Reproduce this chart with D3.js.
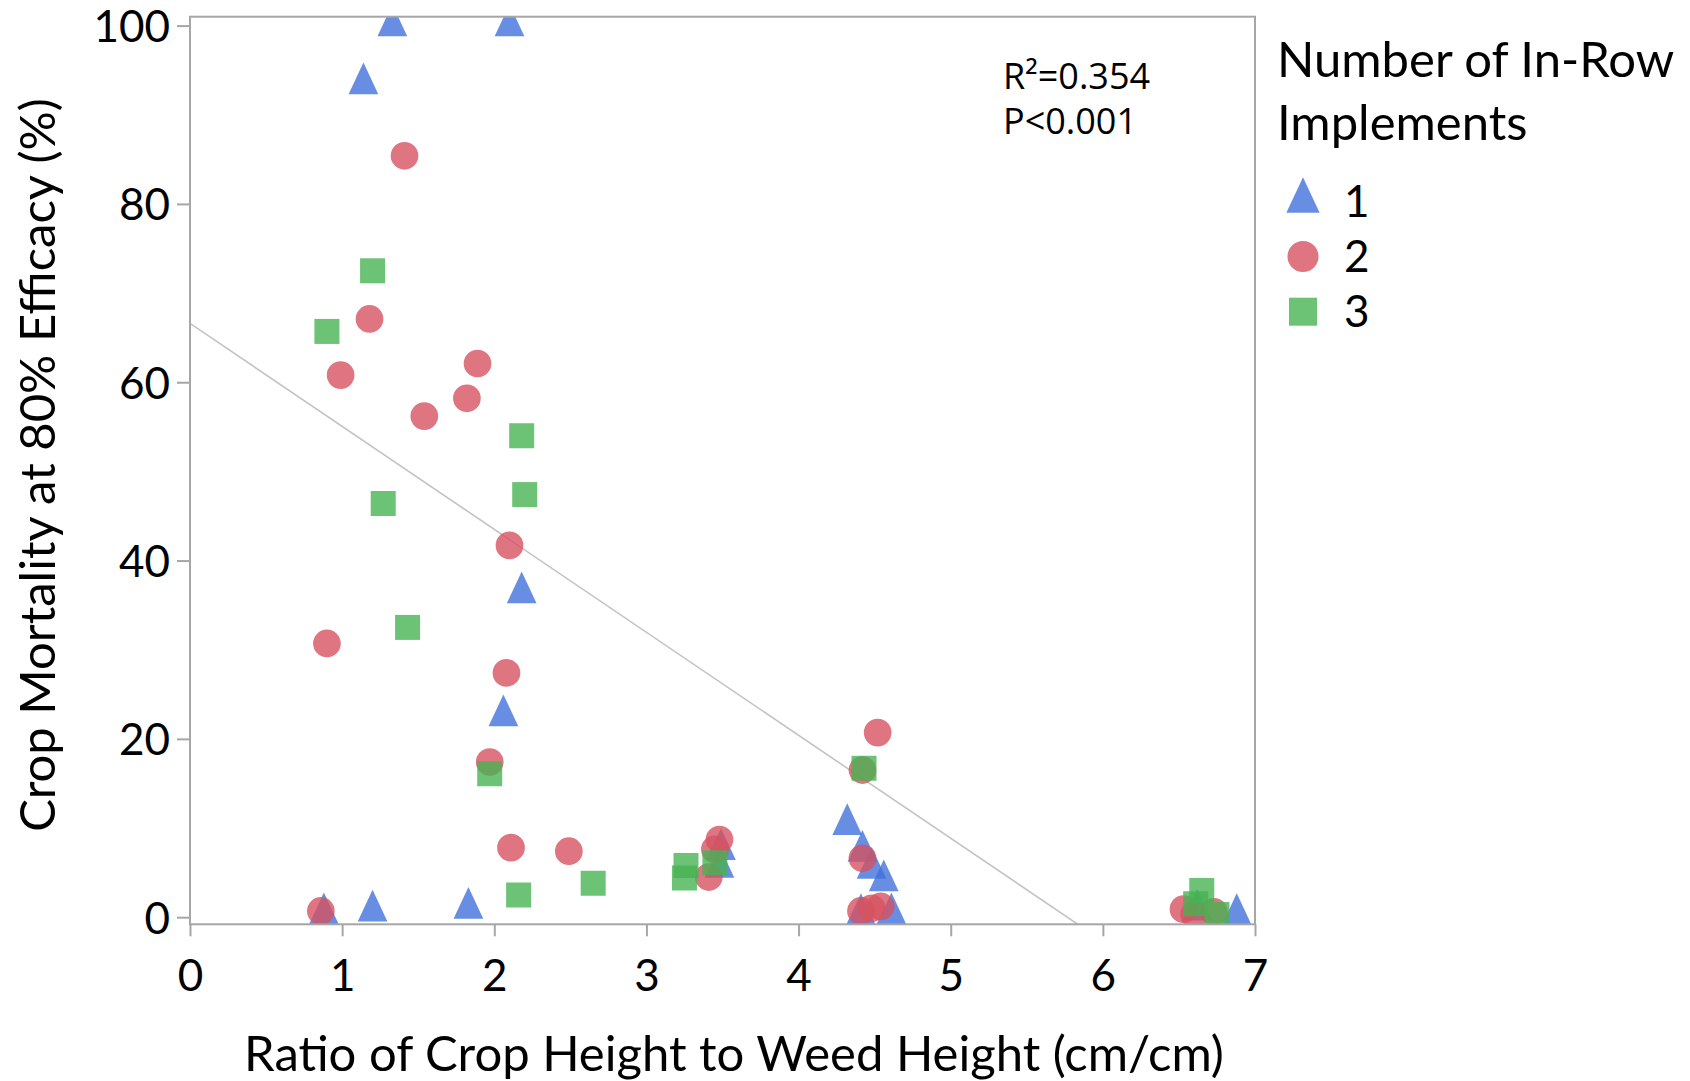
<!DOCTYPE html>
<html>
<head>
<meta charset="utf-8">
<script src="https://cdn.jsdelivr.net/npm/d3@7"></script>
<style>
  html, body { margin: 0; padding: 0; background: #fff; }
  svg { display: block; }
</style>
</head>
<body>
<svg id="chart" width="1690" height="1081"></svg>
<script>
// number of in-row implements = 1 (triangles)
var ratio1 = [1.33, 2.10, 1.14, 2.18, 2.06, 0.88, 1.20, 1.83, 3.49, 3.48, 4.32, 4.42, 4.48, 4.56, 4.41, 4.61, 6.62, 6.88];
var mort1  = [100, 100, 93.5, 36.4, 22.6, 0.4, 0.7, 1.0, 7.6, 5.6, 10.4, 7.4, 5.5, 4.1, 0.3, 0.4, 0.8, 0.3];
// 2 implements (circles)
var ratio2 = [1.41, 1.18, 0.99, 1.89, 1.82, 1.54, 2.10, 0.90, 2.08, 1.97, 2.11, 2.49, 0.86, 3.41, 3.48, 3.45, 4.52, 4.42, 4.42, 4.41, 4.48, 4.54, 6.53, 6.60, 6.73];
var mort2  = [85.4, 67.1, 60.8, 62.1, 58.2, 56.2, 41.7, 30.7, 27.4, 17.4, 7.8, 7.4, 0.7, 4.5, 8.7, 7.6, 20.7, 16.5, 6.6, 0.7, 1.0, 1.2, 0.9, 0.3, 0.6];
// 3 implements (squares)
var ratio3 = [1.20, 0.90, 2.18, 2.20, 1.27, 1.43, 1.97, 2.16, 2.65, 3.26, 3.25, 3.45, 4.43, 6.65, 6.61, 6.75];
var mort3  = [72.5, 65.7, 54.0, 47.4, 46.4, 32.5, 16.1, 2.5, 3.8, 5.8, 4.4, 6.1, 16.7, 3.0, 1.5, 0.3];

var groupNames = ["1", "2", "3"];
var xTicks = [0, 1, 2, 3, 4, 5, 6, 7];
var yTicks = [0, 20, 40, 60, 80, 100];
var fitIntercept = 66.6;
var fitSlope = -11.55;
var statLines = ["R²=0.354", "P<0.001"];

var svg = d3.select("#chart");
var plotL = 190, plotR = 1255, plotT = 16.7, plotB = 924.3;

var x = d3.scaleLinear().domain([0, 7]).range([plotL, plotR]);
var y = d3.scaleLinear().domain([-0.8, 101]).range([plotB, plotT]);

var colors = ["#4172db", "#d65260", "#47b352"];

// triangle a bit taller than equilateral, centred on its centroid
function triPath(k) {
    var w = 29.7 * k, h = 31.7 * k;
    return "M0," + (-2 * h / 3) + "L" + (w / 2) + "," + (h / 3) + "L" + (-w / 2) + "," + (h / 3) + "Z";
}
function markerPath(g, k) {
    if (g === 0) return triPath(k);
    if (g === 1) { var r = 13.85 * k; return "M" + r + ",0A" + r + "," + r + " 0 1,1 " + (-r) + ",0A" + r + "," + r + " 0 1,1 " + r + ",0Z"; }
    var s = 12.5 * k;
    return "M" + (-s) + "," + (-s) + "H" + s + "V" + s + "H" + (-s) + "Z";
}

svg.append("defs").append("clipPath").attr("id", "plotclip")
    .append("rect").attr("x", plotL).attr("y", plotT)
    .attr("width", plotR - plotL).attr("height", plotB - plotT);

var plot = svg.append("g").attr("clip-path", "url(#plotclip)");

// regression line
plot.append("line")
    .attr("x1", x(0)).attr("y1", y(fitIntercept))
    .attr("x2", x(7)).attr("y2", y(fitIntercept + fitSlope * 7))
    .attr("stroke", "#c3c3c3").attr("stroke-width", 1.6);

var series = [[ratio1, mort1], [ratio2, mort2], [ratio3, mort3]];
series.forEach(function(s, g) {
    var pts = s[0].map(function(v, i) { return {x: v, y: s[1][i]}; });
    plot.append("g").selectAll("path")
        .data(pts)
        .enter().append("path")
        .attr("d", markerPath(g, 1))
        .attr("transform", function(d) { return "translate(" + x(d.x) + "," + y(d.y) + ")"; })
        .attr("fill", colors[g])
        .attr("fill-opacity", 0.8);
});

// axes
var axisFont = "Lato, 'Open Sans', sans-serif";
var xAxis = svg.append("g").attr("transform", "translate(0," + plotB + ")")
    .call(d3.axisBottom(x).tickValues(xTicks).tickFormat(d3.format("d")).tickSize(12).tickPadding(23));
var yAxis = svg.append("g").attr("transform", "translate(" + plotL + ",0)")
    .call(d3.axisLeft(y).tickValues(yTicks).tickFormat(d3.format("d")).tickSize(13).tickPadding(7));
[xAxis, yAxis].forEach(function(a) {
    a.select(".domain").remove();
    a.selectAll(".tick line").attr("stroke", "#a6a6a6").attr("stroke-width", 2);
    a.selectAll(".tick text").attr("fill", "#000").style("font-family", axisFont).style("font-size", "44px");
});
yAxis.selectAll(".tick text").attr("dy", "0.36em");

// plot frame
svg.append("rect")
    .attr("x", plotL).attr("y", plotT)
    .attr("width", plotR - plotL).attr("height", plotB - plotT)
    .attr("fill", "none").attr("stroke", "#a6a6a6").attr("stroke-width", 2);

// axis titles
svg.append("text")
    .attr("x", 734).attr("y", 1071)
    .attr("text-anchor", "middle")
    .style("font-family", axisFont).style("font-size", "49px")
    .text("Ratio of Crop Height to Weed Height (cm/cm)");

svg.append("text")
    .attr("transform", "translate(55,465) rotate(-90)")
    .attr("text-anchor", "middle")
    .style("font-family", axisFont).style("font-size", "49px")
    .text("Crop Mortality at 80% Efficacy (%)");

// fit statistics
svg.append("g").selectAll("text")
    .data(statLines)
    .enter().append("text")
    .attr("x", 1003)
    .attr("y", function(d, i) { return 89.3 + i * 44.7; })
    .style("font-family", "'Open Sans', sans-serif").style("font-size", "36px")
    .text(function(d) { return d; });

// legend
var legend = svg.append("g");
["Number of In-Row", "Implements"].forEach(function(t, i) {
    legend.append("text")
        .attr("x", 1277).attr("y", 76.7 + i * 63.3)
        .style("font-family", axisFont).style("font-size", "49px")
        .text(t);
});
var legendY = [201, 256.5, 311.7];
groupNames.forEach(function(name, g) {
    legend.append("path")
        .attr("d", markerPath(g, 1.12))
        .attr("transform", "translate(1303," + legendY[g] + ")")
        .attr("fill", colors[g]).attr("fill-opacity", 0.8);
    legend.append("text")
        .attr("x", 1344).attr("y", legendY[g] + 15.5)
        .style("font-family", axisFont).style("font-size", "44px")
        .text(name);
});
</script>
</body>
</html>
